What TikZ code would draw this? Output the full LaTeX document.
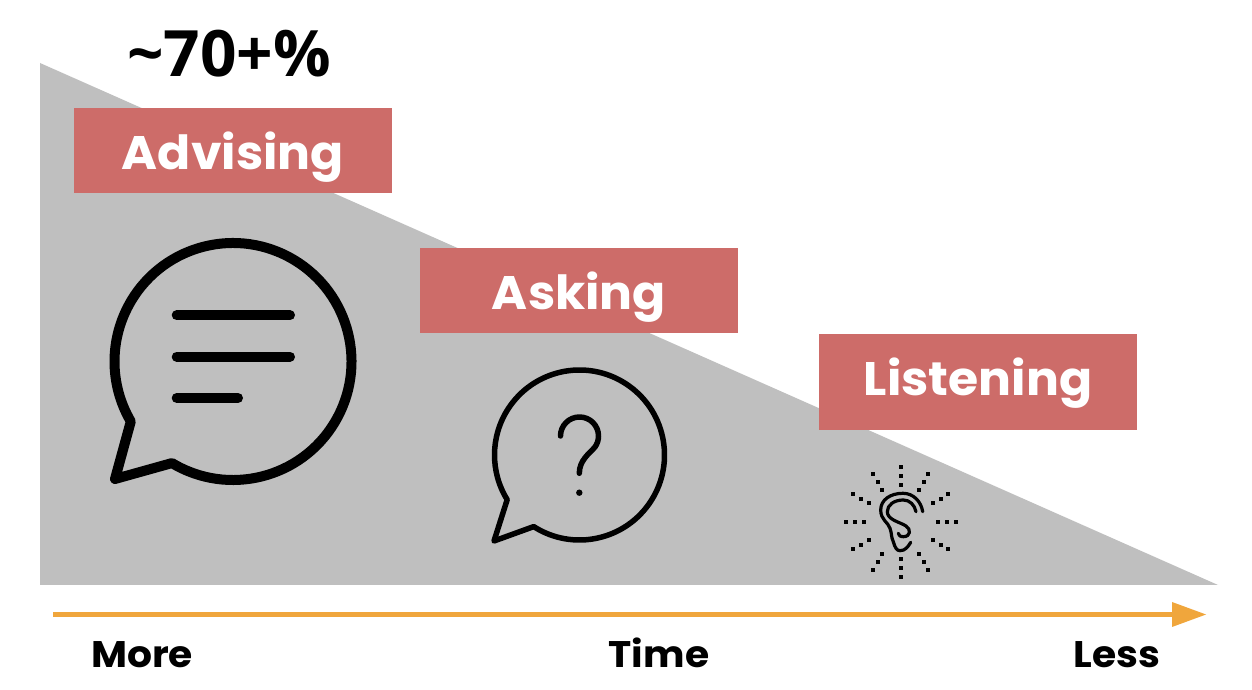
\documentclass[tikz,border=0pt]{standalone}
\usepackage{fontspec}
\usetikzlibrary{calc}
\setmainfont{Poppins}
\newfontfamily\pctfont{Open Sans}
\newfontfamily\labfont[FakeStretch=1.04]{Poppins}
\newfontfamily\axfont[FakeStretch=1.06]{Poppins}
\definecolor{tri}{HTML}{BFBFBF}
\definecolor{lab}{HTML}{CD6C69}
\definecolor{arr}{HTML}{F0A63C}
\tikzset{
  labelbox/.style={fill=lab,draw=none,inner sep=0pt,minimum width=318pt},
  labeltext/.style={inner sep=0pt,anchor=base,text=white,font=\labfont\bfseries\fontsize{47}{47}\selectfont},
  axistext/.style={inner sep=0pt,anchor=base,text=black,font=\axfont\bfseries\fontsize{37}{37}\selectfont},
  icon/.style={draw=black,line join=round,line cap=round},
}
\begin{document}
\begin{tikzpicture}[x=1pt,y=1pt]
\useasboundingbox (0,0) rectangle (1252,690);
\fill[white] (0,0) rectangle (1252,690);
\fill[tri] (40,627) -- (40,105) -- (1218,105) -- cycle;
% label boxes
\node[labelbox,minimum height=85pt] (advisingbox) at (233,539.5) {};
\node[labelbox,minimum height=85pt] (askingbox) at (579,399.5) {};
\node[labelbox,minimum height=96pt] (listeningbox) at (978,308) {};
\node[labeltext] (advising) at (233,520) {Advising};
\node[labeltext] (asking) at (579,380) {Asking};
\node[labeltext] (listening) at (978,294) {Listening};
\node[inner sep=0pt,font=\pctfont\bfseries\fontsize{64}{64}\selectfont] (pct) at (229,636) {\char126 70+\%};
% big bubble
\coordinate (bigc) at (233,328.5);
\coordinate (bigtail) at (115,211);
\draw[icon,line width=10pt] ($(bigc)+(239:118.5)$) arc[start angle=239,end angle=570.4,radius=118.5] -- (bigtail) -- cycle;
\draw[icon,line width=10pt] (176.7,374.7) -- (290,374.7);
\draw[icon,line width=10pt] (176.7,333.3) -- (290,333.3);
\draw[icon,line width=10pt] (176.7,292) -- (238,292);
% small bubble
\coordinate (smallc) at (579.5,235);
\coordinate (smalltail) at (494,149);
\draw[icon,line width=5.5pt] ($(smallc)+(237.4:85)$) arc[start angle=237.4,end angle=571.7,radius=85] -- (smalltail) -- cycle;
\draw[icon,line width=5.5pt] (560.5,254) arc[start angle=180,end angle=-35,radius=19]
  .. controls (590,237) and (579.3,230) .. (579.3,216.7);
\fill (579.3,197.3) circle[radius=3.2];
% ear
\coordinate (earc) at (900.7,168);
\foreach \a in {0,30,...,330}{
  \foreach \r in {37,46,55}{
    \fill ($(earc)+(\a:\r)+(-2,-2)$) rectangle +(4,4);
  }
}
\draw[icon,line width=3.2pt] (922.7,178.3) .. controls (921,189) and (913,196.7) .. (903,196.7)
  .. controls (890,196.7) and (880.7,190) .. (880.7,180)
  .. controls (880.7,170) and (888,168) .. (890,161.7)
  .. controls (892,156) and (891,153) .. (893.3,148.3)
  .. controls (895,142) and (897,139.3) .. (900,139.3)
  .. controls (905,139.3) and (908,143) .. (910.7,147.7);
\draw[icon,line width=3.2pt] (916,178.3) .. controls (914.5,185) and (910,190) .. (903.3,190)
  .. controls (894,190) and (887.3,185) .. (887.3,178.3)
  .. controls (887.3,170) and (900,168) .. (906,164)
  .. controls (911,161) and (911,153.3) .. (903.3,153.3)
  .. controls (900,153.3) and (898.3,155) .. (898.3,156.7);
% axis
\coordinate (axstart) at (53,75);
\coordinate (axend) at (1176,75);
\draw[arr,line width=5pt] (axstart) -- (axend);
\fill[arr] (1172,88) -- (1206,75.5) -- (1172,63) -- cycle;
\node[axistext] (more) at (142,22) {More};
\node[axistext] (time) at (659,22) {Time};
\node[axistext] (less) at (1117,22) {Less};
\end{tikzpicture}
\end{document}
